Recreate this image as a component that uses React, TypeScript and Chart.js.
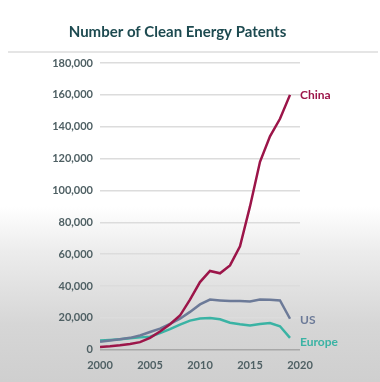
import { useEffect, useRef } from 'react';
import { Chart, registerables } from 'chart.js';

Chart.register(...registerables);

const years = [2000, 2001, 2002, 2003, 2004, 2005, 2006, 2007, 2008, 2009, 2010, 2011, 2012, 2013, 2014, 2015, 2016, 2017, 2018, 2019];
const seriesNames = ['China', 'US', 'Europe'];
const china = [1800, 2200, 2800, 3700, 4800, 7500, 11500, 16000, 21500, 31500, 42500, 49500, 48000, 53000, 65000, 90000, 118000, 134000, 145000, 160000];
const us = [5000, 5800, 6600, 7500, 9000, 11200, 13300, 16200, 19500, 23800, 28500, 31500, 31000, 30600, 30600, 30300, 31600, 31400, 31000, 19500];
const europe = [5800, 6200, 6600, 7200, 7800, 8200, 10500, 13000, 15800, 18300, 19700, 20000, 19200, 17000, 16000, 15200, 16200, 16800, 14800, 7500];
const xTickLabels = [2000, 2005, 2010, 2015, 2020];
const yTickMax = 180000;
const yTickStep = 20000;
const title = 'Number of Clean Energy Patents';

const colors = ['#9c1549', '#6c7a98', '#3ab3a4'];
const labelOffsets = [0, 1, 4];

const overlayPlugin = {
  id: 'overlay',
  afterDraw(chart: any) {
    const ctx = chart.ctx;
    ctx.save();
    // title
    ctx.font = 'bold 15px Lato';
    ctx.fillStyle = '#1d4a50';
    ctx.textAlign = 'center';
    ctx.textBaseline = 'alphabetic';
    ctx.fillText(title, 177.5, 37);
    // rule under title
    ctx.strokeStyle = '#dcdcdc';
    ctx.lineWidth = 1.5;
    ctx.beginPath();
    ctx.moveTo(8, 52);
    ctx.lineTo(378, 52);
    ctx.stroke();
    // series end labels
    ctx.font = 'bold 12px Lato';
    ctx.textAlign = 'left';
    ctx.textBaseline = 'middle';
    chart.data.datasets.forEach((ds: any, i: number) => {
      const meta = chart.getDatasetMeta(i);
      const pt = meta.data[meta.data.length - 1];
      if (!pt) return;
      ctx.fillStyle = colors[i];
      ctx.fillText(ds.label, pt.x + 10, pt.y + labelOffsets[i]);
    });
    ctx.restore();
  },
};

export default function App() {
  const ref = useRef<HTMLCanvasElement>(null);
  useEffect(() => {
    document.body.style.margin = '0';
    const seriesValues = [china, us, europe];
    const chart = new Chart(ref.current as HTMLCanvasElement, {
      type: 'line',
      data: {
        datasets: seriesNames.map((name, i) => ({
          label: name,
          data: years.map((y, j) => ({ x: y, y: seriesValues[i][j] })),
          borderColor: colors[i],
          backgroundColor: colors[i],
          borderWidth: 2.5,
          pointRadius: 0,
          tension: 0,
          fill: false,
        })),
      },
      options: {
        animation: false,
        responsive: false,
        devicePixelRatio: 1,
        layout: { padding: { top: 63, right: 80, bottom: 1, left: 0 } },
        plugins: {
          legend: { display: false },
          tooltip: { enabled: false },
          title: { display: false },
        },
        scales: {
          x: {
            type: 'linear',
            min: xTickLabels[0],
            max: xTickLabels[xTickLabels.length - 1],
            afterBuildTicks: (scale: any) => {
              scale.ticks = xTickLabels.map((v) => ({ value: v }));
            },
            ticks: {
              padding: 9,
              color: '#4f6064',
              font: { family: 'Lato', size: 11, weight: 'bold' },
              callback: (v: any) => String(v),
              maxRotation: 0,
            },
            grid: { display: false, drawTicks: false },
            border: { display: false },
          },
          y: {
            min: 0,
            max: yTickMax,
            afterFit: (scale: any) => {
              scale.width = 100;
            },
            ticks: {
              stepSize: yTickStep,
              padding: 7,
              color: '#4f6064',
              font: { family: 'Lato', size: 11, weight: 'bold' },
              callback: (v: any) => Number(v).toLocaleString('en-US'),
            },
            grid: {
              drawTicks: false,
              lineWidth: 1.5,
              color: (c: any) => (c.tick && c.tick.value === 0 ? '#a8a8a8' : '#dcdcdc'),
            },
            border: { display: false },
          },
        },
      },
      plugins: [overlayPlugin],
    } as any);
    return () => chart.destroy();
  }, []);
  return (
    <div
      style={{
        width: 380,
        height: 382,
        position: 'relative',
        background: 'linear-gradient(to bottom, #ffffff 0%, #ffffff 54%, #ececec 66%, #d6d6d6 85%, #cfcfcf 100%)',
      }}
    >
      <canvas ref={ref} width={380} height={382} style={{ display: 'block' }} />
    </div>
  );
}
